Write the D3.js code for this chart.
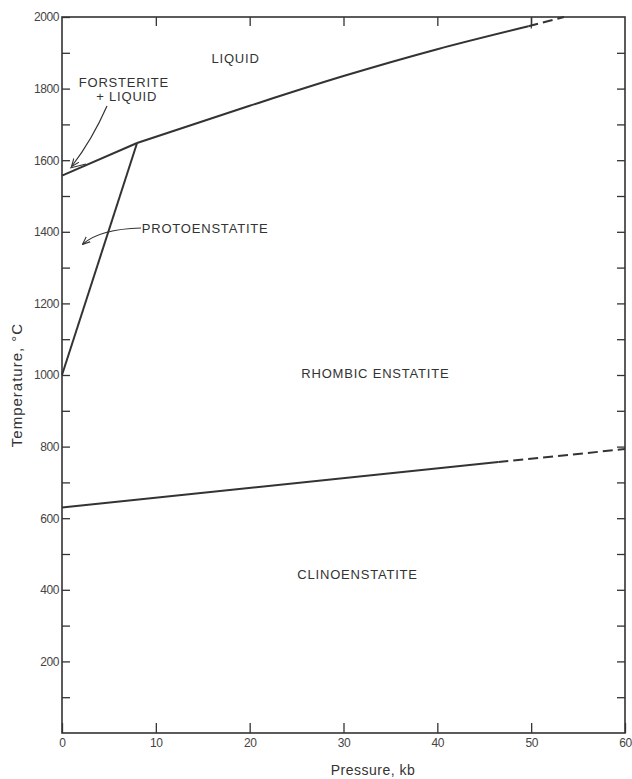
<!doctype html>
<html>
  <head>
    <meta charset="utf-8">
    <script src="https://cdnjs.cloudflare.com/ajax/libs/d3/7.8.5/d3.min.js"></script>
    <style>
      body { margin: 0; background: #fff; }
      svg { font-family: "Liberation Sans", Arial, sans-serif; }
      .frame { fill: none; stroke: #333; stroke-width: 1.6px; }
      .tick line { stroke: #333; stroke-width: 1.3px; }
      .tick text { fill: #444; font-size: 12px; }
      .domain { display: none; }
      .curve { fill: none; stroke: #333; stroke-width: 2px; }
      .dash { stroke-dasharray: 10,5; }
      .field { fill: #333; font-size: 13px; letter-spacing: 0.8px; }
      .title { fill: #333; font-size: 14px; letter-spacing: 0.5px; }
      .pointer { fill: none; stroke: #333; stroke-width: 1.2px; }
    </style>
  </head>
  <body>
    <svg width="632" height="779"></svg>
    <script>
      // boundary curves, pressure in kb, temperature in °C
      var liquidus = [[0, 1557], [8, 1648], [20, 1752], [30, 1835], [40, 1910], [49.7, 1974]];
      var liquidusDashed = [[49.7, 1974], [53.5, 2000]];
      var protoBoundary = [[0, 1000], [8, 1648]];
      var clinoBoundary = [[0, 630], [46.5, 757]];
      var clinoDashed = [[46.5, 757], [60, 793]];

      var xTicks = [0, 10, 20, 30, 40, 50, 60];
      var yTicks = d3.range(100, 2001, 100);
      var yLabels = [200, 400, 600, 800, 1000, 1200, 1400, 1600, 1800, 2000];

      var fields = [
        {text: "LIQUID", p: 18.5, t: 1880},
        {text: "FORSTERITE", p: 6.6, t: 1813},
        {text: "+ LIQUID", p: 6.9, t: 1774},
        {text: "PROTOENSTATITE", p: 8.5, t: 1405, anchor: "start"},
        {text: "RHOMBIC  ENSTATITE", p: 33.4, t: 1000},
        {text: "CLINOENSTATITE", p: 31.5, t: 440}
      ];

      var svg = d3.select("svg");
      var x = d3.scaleLinear().domain([0, 60]).range([62, 625]);
      var y = d3.scaleLinear().domain([0, 2000]).range([733, 17]);

      // axes with inward ticks on all four sides
      svg.append("g")
          .attr("transform", "translate(0,733)")
          .call(d3.axisBottom(x).tickValues(xTicks).tickSizeInner(-10).tickSizeOuter(0).tickPadding(5));
      svg.append("g")
          .attr("transform", "translate(0,17)")
          .call(d3.axisTop(x).tickValues(xTicks.slice(1, -1)).tickSizeInner(-9).tickSizeOuter(0).tickFormat(""));
      svg.append("g")
          .attr("transform", "translate(62,0)")
          .call(d3.axisLeft(y).tickValues(yTicks)
            .tickFormat(d => yLabels.indexOf(d) >= 0 ? d : "")
            .tickSizeInner(-8).tickSizeOuter(0).tickPadding(3));
      svg.append("g")
          .attr("transform", "translate(625,0)")
          .call(d3.axisRight(y).tickValues(yTicks.slice(0, -1)).tickSizeInner(-8).tickSizeOuter(0).tickFormat(""));

      svg.selectAll(".tick text").style("letter-spacing", "-0.4px");

      svg.append("rect").attr("class", "frame")
          .attr("x", x(0)).attr("y", y(2000))
          .attr("width", x(60) - x(0)).attr("height", y(0) - y(2000));

      var line = d3.line().x(d => x(d[0])).y(d => y(d[1]));
      var smooth = d3.line().x(d => x(d[0])).y(d => y(d[1])).curve(d3.curveMonotoneX);

      svg.append("path").attr("class", "curve").attr("d", line(liquidus.slice(0, 2)));
      svg.append("path").attr("class", "curve").attr("d", smooth(liquidus.slice(1)));
      svg.append("path").attr("class", "curve dash").attr("d", line(liquidusDashed));
      svg.append("path").attr("class", "curve").attr("d", line(protoBoundary));
      svg.append("path").attr("class", "curve").attr("d", line(clinoBoundary));
      svg.append("path").attr("class", "curve dash").attr("d", line(clinoDashed));

      // small break mark on dashed liquidus
      svg.append("line").attr("class", "pointer")
          .attr("x1", x(49.8) + 2).attr("x2", x(49.8) + 2)
          .attr("y1", y(2000) + 1).attr("y2", y(1968));

      svg.append("defs").append("marker")
          .attr("id", "head")
          .attr("viewBox", "0 -5 10 10")
          .attr("refX", 9).attr("refY", 0)
          .attr("markerWidth", 8).attr("markerHeight", 8)
          .attr("markerUnits", "userSpaceOnUse")
          .attr("orient", "auto")
        .append("path")
          .attr("d", "M0,-4L10,0L0,4")
          .attr("fill", "none").attr("stroke", "#333").attr("stroke-width", 1.4);

      // leader lines
      svg.append("path").attr("class", "pointer").attr("marker-end", "url(#head)")
          .attr("d", "M107,106 Q92,140 72,166");
      svg.append("line").attr("class", "pointer")
          .attr("x1", 70).attr("y1", 168).attr("x2", 86).attr("y2", 164);
      svg.append("path").attr("class", "pointer").attr("marker-end", "url(#head)")
          .attr("d", "M141,228 Q100,229 83,244");

      svg.selectAll("text.field")
          .data(fields)
          .enter()
        .append("text")
          .attr("class", "field")
          .attr("x", d => x(d.p))
          .attr("y", d => y(d.t))
          .attr("text-anchor", d => d.anchor || "middle")
          .attr("dominant-baseline", "middle")
          .text(d => d.text);

      svg.append("text").attr("class", "title")
          .attr("x", 373).attr("y", 775)
          .attr("text-anchor", "middle")
          .text("Pressure, kb");
      svg.append("text").attr("class", "title")
          .attr("transform", "translate(22,385) rotate(-90)")
          .attr("text-anchor", "middle")
          .style("font-size", "15px")
          .style("letter-spacing", "1px")
          .text("Temperature, °C");
    </script>
  </body>
</html>
